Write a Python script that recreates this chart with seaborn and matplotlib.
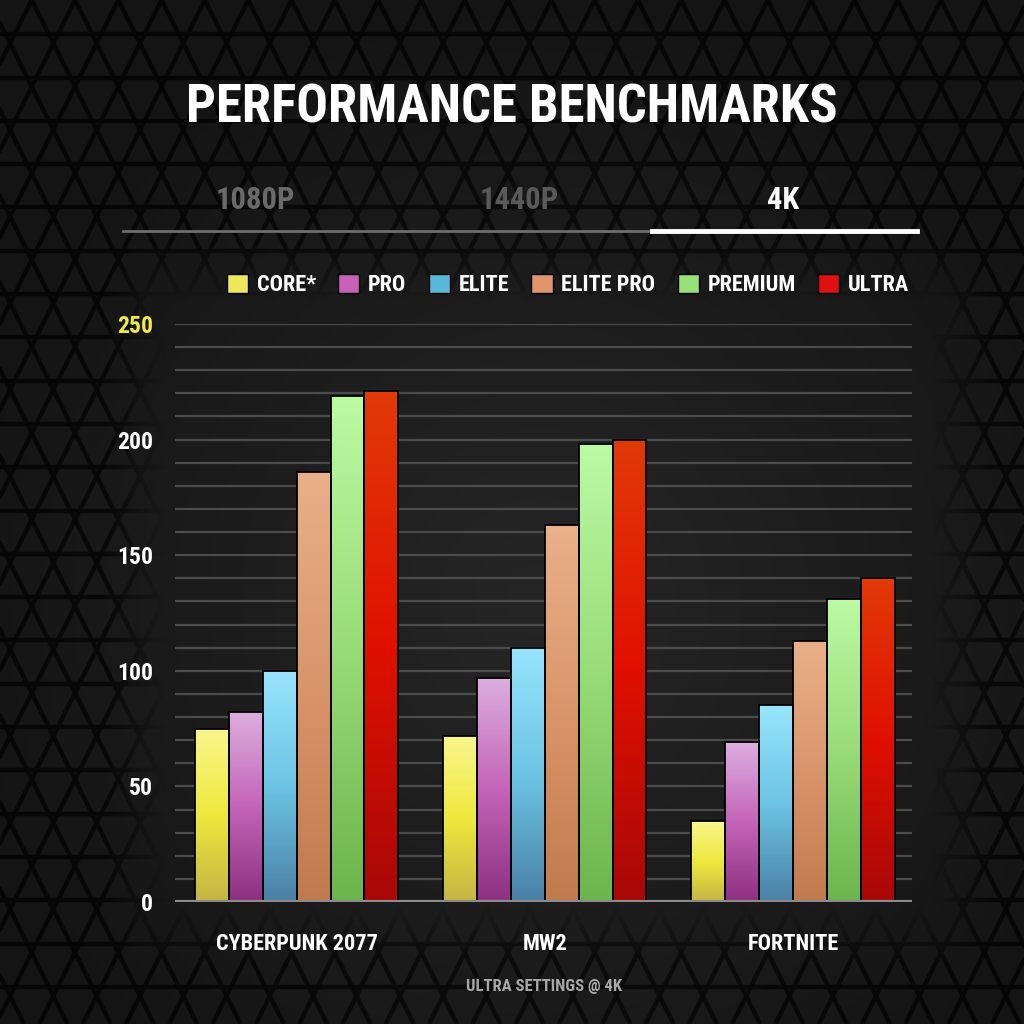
import numpy as np
import pandas as pd
import seaborn as sns
import matplotlib.pyplot as plt
from matplotlib import font_manager
from matplotlib.collections import LineCollection
from matplotlib.colors import LinearSegmentedColormap, to_rgb
from matplotlib.patches import Patch

# ---- data (fps at 4K, ultra settings) ----
games = ["CYBERPUNK 2077", "MW2", "FORTNITE"]
tiers = ["CORE*", "PRO", "ELITE", "ELITE PRO", "PREMIUM", "ULTRA"]
core = [75, 72, 35]
pro = [82, 97, 69]
elite = [100, 110, 85]
elite_pro = [186, 163, 113]
premium = [219, 198, 131]
ultra = [221, 200, 140]
y_ticks = [0, 50, 100, 150, 200, 250]
tabs = ["1080P", "1440P", "4K"]

# flat colours (legend) and gradient stops (top, mid, bottom) of each bar
flat = ["#ece85a", "#c860b8", "#58b8d8", "#e0956a", "#98e078", "#e01010"]
grad_top = ["#faf68e", "#dcaede", "#98e4fc", "#eab08a", "#bcfaa4", "#e23a08"]
grad_mid = ["#eee83c", "#c464b8", "#6cc4e4", "#d9956a", "#98dc78", "#e01000"]
grad_bot = ["#c4b444", "#8c3080", "#4a80a4", "#c07a4c", "#6cb44c", "#a80808"]


def pick_font(names):
    for n in names:
        try:
            font_manager.findfont(font_manager.FontProperties(family=n),
                                  fallback_to_default=False)
            return n
        except ValueError:
            pass
    return "DejaVu Sans"


FONT = pick_font(["Liberation Sans Narrow", "Roboto Condensed", "DejaVu Sans"])
plt.rcParams["font.family"] = [FONT, "DejaVu Sans"]
plt.rcParams["font.weight"] = "bold"

df = pd.DataFrame({
    "game": games * 6,
    "tier": np.repeat(tiers, 3),
    "fps": core + pro + elite + elite_pro + premium + ultra,
})

fig = plt.figure(figsize=(10.24, 10.24), dpi=100)
fig.patch.set_facecolor("#151515")

# ---- background: triangle tiles, hidden behind the plot area ----
bg = fig.add_axes([0, 0, 1, 1], zorder=-10)
bg.set_xlim(0, 1024)
bg.set_ylim(1024, 0)
bg.axis("off")
yy, xx = np.mgrid[0:1024:2, 0:1024:2]
r = np.hypot((xx - 540) / 600, (yy - 600) / 620)
shade = np.clip(1 - r, 0, 1)
bg_cmap = LinearSegmentedColormap.from_list("bg", ["#141414", "#262626"])
bg.imshow(shade, cmap=bg_cmap, vmin=0, vmax=1, extent=[0, 1024, 1024, 0],
          aspect="auto", zorder=0)

w = h = 43.3
y0, xa = 727 % h, 31.7
segs = [[(0, y0 + k * h), (1024, y0 + k * h)] for k in range(-1, 25)]
for x0 in np.arange(xa - 30 * w, 1024 + 30 * w, w):
    segs.append([(x0, 0), (x0 + 0.5 * 1024 * w / h, 1024)])
    segs.append([(x0, 0), (x0 - 0.5 * 1024 * w / h, 1024)])
bg.add_collection(LineCollection(segs, colors="#050505", linewidths=3.2, alpha=0.9, zorder=1))

# soft cover over the plot area so the tiles fade out there
dx = np.maximum(np.maximum(165 - xx, xx - 930), 0)
dy = np.maximum(np.maximum(300 - yy, yy - 905), 0)
d = np.hypot(dx, dy)
cover = np.clip(1 - d / 70, 0, 1)
cover = np.maximum(cover, 0.45 * np.clip(1.1 - r, 0, 1))
glow = bg_cmap(shade)
glow[..., 3] = cover
bg.imshow(glow, extent=[0, 1024, 1024, 0], aspect="auto", zorder=2)

# ---- titles, resolution tabs ----
bg.text(512, 108, "PERFORMANCE BENCHMARKS", color="white", fontsize=38,
        ha="center", va="center", zorder=5)
tab_x = [255, 519, 783]
tab_c = ["#6a6a6a", "#5a5a5a", "white"]
for t, x, c in zip(tabs, tab_x, tab_c):
    bg.text(x, 200, t, color=c, fontsize=22, ha="center", va="center", zorder=5)
bg.plot([123, 652], [231, 231], color="#6e6e6e", lw=2, zorder=5)
bg.plot([652, 917], [231, 231], color="white", lw=3.5, zorder=5)
bg.text(544, 987, "ULTRA SETTINGS @ 4K", color="#a8a8a8", fontsize=12,
        ha="center", va="center", zorder=5)

# ---- main bar chart ----
ax = fig.add_axes([175 / 1024, 1 - 902 / 1024, (912 - 175) / 1024, (902 - 324) / 1024])
ax.patch.set_alpha(0)
sns.barplot(data=df, x="game", y="fps", hue="tier", order=games, hue_order=tiers,
            palette=flat, width=0.82, edgecolor="black", linewidth=1.3,
            legend=False, ax=ax, zorder=3)

ramp = np.linspace(0, 1, 256).reshape(-1, 1)
flat_rgb = np.array([to_rgb(c) for c in flat])
for p in list(ax.patches):
    fc = np.array(to_rgb(p.get_facecolor()))
    i = int(np.argmin(((flat_rgb - fc) ** 2).sum(axis=1)))
    cmap = LinearSegmentedColormap.from_list("g", [grad_bot[i], grad_mid[i], grad_top[i]])
    x, bw, hgt = p.get_x(), p.get_width(), p.get_height()
    im = ax.imshow(ramp, cmap=cmap, origin="lower", extent=[x, x + bw, 0, hgt],
                   aspect="auto", zorder=3, interpolation="bilinear")
    im.set_clip_path(p)
    p.set_facecolor("none")
    p.set_zorder(4)

ax.set_xlim(-0.49, 2.48)
ax.set_ylim(0, 250)
ax.set_yticks(y_ticks)
ax.set_yticks(range(0, 251, 10), minor=True)
ax.grid(True, axis="y", which="both", color="#4c4c4c", lw=1.6, zorder=1)
ax.set_axisbelow(True)
ax.axhline(0, color="#8c8c8c", lw=3, zorder=5)
for sp in ax.spines.values():
    sp.set_visible(False)
ax.tick_params(axis="both", which="both", length=0)
ax.tick_params(axis="y", colors="white", labelsize=17, pad=16)
ax.tick_params(axis="x", colors="white", labelsize=16, pad=22)
ax.get_yticklabels()[-1].set_color("#f0ec40")
ax.set_xlabel("")
ax.set_ylabel("")

handles = [Patch(facecolor=c, edgecolor="black", lw=1) for c in flat]
fig.legend(handles, tiers, ncol=6, loc="center", bbox_to_anchor=(568 / 1024, 1 - 285 / 1024),
           frameon=False, fontsize=16, labelcolor="white", handlelength=0.95,
           handleheight=0.95, handletextpad=0.4, columnspacing=1.0)

fig.savefig("out.png", dpi=100, facecolor=fig.get_facecolor())
